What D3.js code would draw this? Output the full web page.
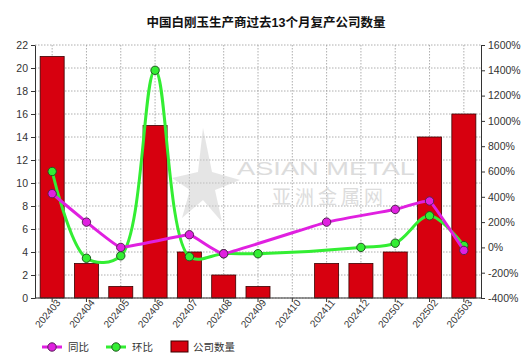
<!DOCTYPE html>
<html><head><meta charset="utf-8">
<script src="https://cdn.jsdelivr.net/npm/d3@7"></script>
<style>body{margin:0;background:#fff;} text{font-family:Arial,"Liberation Sans","Noto Sans CJK SC",sans-serif;}</style>
</head><body><svg id="c" width="528" height="361"></svg>
<script>
const categories = ["202403","202404","202405","202406","202407","202408","202409","202410","202411","202412","202501","202502","202503"];
const companyCount = [21,3,1,15,4,2,1,0,3,3,4,14,16];
const yoy = [425,200,0,null,100,-50,null,null,200,null,300,366.7,-23.8];
const mom = [600,-85.7,-66.7,1400,-73.3,-50,-50,null,null,0,33.3,250,14.3];
const leftTicks = [0,2,4,6,8,10,12,14,16,18,20,22];
const rightTicks = [-400,-200,0,200,400,600,800,1000,1200,1400,1600];

const svg = d3.select("#c");
const L=35, R=481, T=45, B=298;
const x = d3.scaleBand().domain(categories).range([L,R]).paddingInner(0.3).paddingOuter(0.15);
const yL = d3.scaleLinear().domain([0,22]).range([B,T]);
const yR = d3.scaleLinear().domain([-400,1600]).range([B,T]);
const cx = d => x(d)+x.bandwidth()/2;

svg.append("text").attr("x",266).attr("y",27).attr("text-anchor","middle")
  .attr("font-size",12.5).attr("font-weight","bold").attr("fill","#111")
  .text("中国白刚玉生产商过去13个月复产公司数量");

// grid
const g = svg.append("g");
leftTicks.forEach(t=>{ g.append("line").attr("x1",L).attr("x2",R).attr("y1",yL(t)).attr("y2",yL(t))
  .attr("stroke","#999").attr("stroke-dasharray","1.5,1.5").attr("stroke-width",0.8);});
categories.forEach(c=>{ g.append("line").attr("x1",cx(c)).attr("x2",cx(c)).attr("y1",T).attr("y2",B)
  .attr("stroke","#999").attr("stroke-dasharray","1.5,1.5").attr("stroke-width",0.8);});

// watermark
svg.append("path").attr("d","M203,128 L212,172 L240,180 L215,190 L222,222 L203,200 L182,218 L190,190 L172,178 L198,172 Z")
  .attr("fill","#ccc").attr("opacity",0.5);
svg.append("text").attr("x",237).attr("y",175).attr("textLength",178).attr("lengthAdjust","spacingAndGlyphs")
  .attr("font-size",19).attr("fill","#d4d4d4").attr("opacity",0.8).text("ASIAN METAL");
svg.append("text").attr("x",272).attr("y",204).attr("textLength",111).attr("lengthAdjust","spacing")
  .attr("font-size",19).attr("fill","#d4d4d4").attr("opacity",0.8).text("亚洲金属网");

// bars
svg.append("g").selectAll("rect").data(categories).join("rect")
  .attr("x",d=>x(d)).attr("width",x.bandwidth())
  .attr("y",(d,i)=>yL(companyCount[i])).attr("height",(d,i)=>B-yL(companyCount[i]))
  .attr("fill","#D7000F").attr("stroke","#3a0000").attr("stroke-width",0.8);

// axes
const axL = svg.append("g").attr("transform",`translate(${L},0)`).call(d3.axisLeft(yL).tickValues(leftTicks).tickSize(4).tickSizeOuter(0));
const axR = svg.append("g").attr("transform",`translate(${R},0)`).call(d3.axisRight(yR).tickValues(rightTicks).tickSize(4).tickSizeOuter(0).tickFormat(d=>d+"%"));
const axB = svg.append("g").attr("transform",`translate(0,${B})`).call(d3.axisBottom(x).tickSize(4).tickSizeOuter(0));
[axL,axR,axB].forEach(a=>{a.selectAll("path,line").attr("stroke","#333"); a.selectAll("text").attr("font-size",10.5).attr("fill","#333");});
axB.select(".domain").attr("d",`M${L},0H${R}`);
axB.selectAll("text").attr("text-anchor","end").attr("dx","0.2em").attr("dy","0.3em")
  .attr("transform","rotate(-50)").attr("font-size",10);

// lines
function series(vals,color,stroke,curve){
  const pts = categories.map((c,i)=>({c,v:vals[i]})).filter(p=>p.v!==null);
  const line = d3.line().x(p=>cx(p.c)).y(p=>yR(p.v)).curve(curve);
  svg.append("path").datum(pts).attr("d",line).attr("fill","none").attr("stroke",color).attr("stroke-width",3);
  svg.append("g").selectAll("circle").data(pts).join("circle")
    .attr("cx",p=>cx(p.c)).attr("cy",p=>yR(p.v)).attr("r",4.2)
    .attr("fill",color).attr("stroke",stroke).attr("stroke-width",1);
}
series(mom,"#33EE33","#225522",d3.curveCatmullRom.alpha(0.5));
series(yoy,"#E020E0","#552255",d3.curveCardinal.tension(0.75));

// legend
const lg = svg.append("g");
function lineKey(x0,color,stroke,label){
  lg.append("line").attr("x1",x0).attr("x2",x0+20).attr("y1",347).attr("y2",347).attr("stroke",color).attr("stroke-width",3);
  lg.append("circle").attr("cx",x0+10).attr("cy",347).attr("r",4.2).attr("fill",color).attr("stroke",stroke);
  lg.append("text").attr("x",x0+26).attr("y",351).attr("font-size",10.5).attr("fill","#333").text(label);
}
lineKey(42,"#E020E0","#552255","同比");
lineKey(106,"#33EE33","#225522","环比");
lg.append("rect").attr("x",171).attr("y",341).attr("width",17).attr("height",11).attr("fill","#D7000F").attr("stroke","#3a0000");
lg.append("text").attr("x",193).attr("y",351).attr("font-size",10.5).attr("fill","#333").text("公司数量");
</script></body></html>
